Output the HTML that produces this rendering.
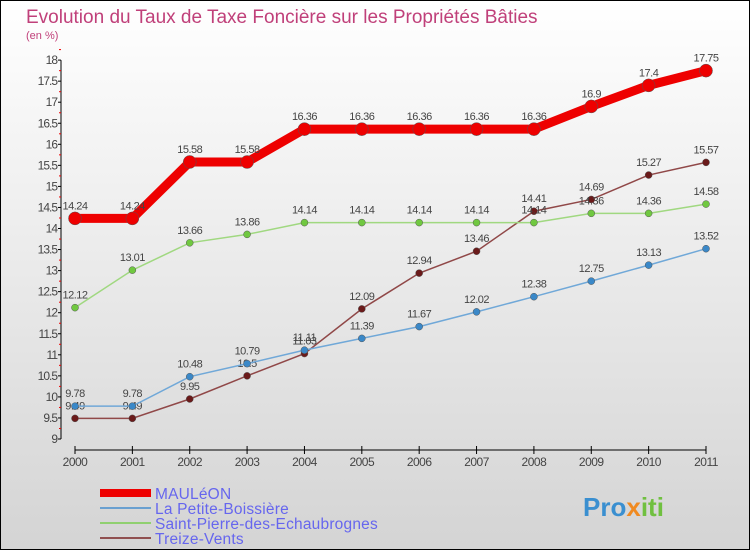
<!DOCTYPE html>
<html><head><meta charset="utf-8"><style>
body{margin:0;width:750px;height:550px;overflow:hidden;font-family:"Liberation Sans",sans-serif}
</style></head><body>
<svg width="750" height="550" xmlns="http://www.w3.org/2000/svg">
<defs><linearGradient id="bg" x1="0" y1="0" x2="0" y2="1"><stop offset="0" stop-color="#ffffff"/><stop offset="1" stop-color="#d4d4d4"/></linearGradient></defs>
<rect x="0.5" y="0.5" width="749" height="549" fill="url(#bg)" stroke="#000"/>
<text x="26" y="23" font-size="19" fill="#c0407a">Evolution du Taux de Taxe Foncière sur les Propriétés Bâties</text>
<text x="26" y="39" font-size="11" fill="#c0407a">(en %)</text>
<g id="axes"></g><g id="series"></g>
<g>
<rect x="100" y="489" width="51" height="8" fill="#e00"/>
<line x1="100" y1="508" x2="151" y2="508" stroke="#6aa0d0" stroke-width="2"/>
<line x1="100" y1="523" x2="151" y2="523" stroke="#90d070" stroke-width="2"/>
<line x1="100" y1="538" x2="151" y2="538" stroke="#905050" stroke-width="2"/>
<g font-size="15.5" fill="#6666ee" letter-spacing="0.2">
<text x="155" y="499">MAULéON</text>
<text x="155" y="514">La Petite-Boissière</text>
<text x="155" y="529">Saint-Pierre-des-Echaubrognes</text>
<text x="155" y="544">Treize-Vents</text>
</g></g>
<text x="583" y="516" font-size="26" font-weight="bold" fill="#3a8fd0">Pro<tspan fill="#f08a20">x</tspan><tspan fill="#70c040">iti</tspan></text>
</svg>
<script>
const years=[2000,2001,2002,2003,2004,2005,2006,2007,2008,2009,2010,2011];
const mauleon=[14.24,14.24,15.58,15.58,16.36,16.36,16.36,16.36,16.36,16.9,17.4,17.75];
const petite=[9.78,9.78,10.48,10.79,11.11,11.39,11.67,12.02,12.38,12.75,13.13,13.52];
const saint=[12.12,13.01,13.66,13.86,14.14,14.14,14.14,14.14,14.14,14.36,14.36,14.58];
const treize=[9.49,9.49,9.95,10.5,11.03,12.09,12.94,13.46,14.41,14.69,15.27,15.57];
const yTicks=[9,9.5,10,10.5,11,11.5,12,12.5,13,13.5,14,14.5,15,15.5,16,16.5,17,17.5,18];
const NS="http://www.w3.org/2000/svg";
const X=i=>75+i*(706-75)/11, Y=v=>439-(v-9)*42.1;
function mk(t,a,p){const e=document.createElementNS(NS,t);for(const k in a)e.setAttribute(k,a[k]);p.appendChild(e);return e;}
const ax=document.getElementById('axes'), sr=document.getElementById('series');
let l=mk('line',{x1:61,y1:Y(18),x2:61,y2:Y(9),stroke:'#000'},ax);


yTicks.forEach(v=>{
 mk('line',{x1:58,x2:61,y1:Y(v),y2:Y(v),stroke:'#000'},ax);
 mk('line',{x1:59,x2:61,y1:Y(v)-10.5,y2:Y(v)-10.5,stroke:'#e00'},ax);
 const t=mk('text',{x:57,y:Y(v)+4,'text-anchor':'end','font-size':12,fill:'#444','letter-spacing':'-1'},ax);t.textContent=v;
 
 
});
l=mk('line',{x1:X(0),y1:450,x2:X(11),y2:450,stroke:'#000'},ax);


years.forEach((y,i)=>{
 mk('line',{x1:X(i),x2:X(i),y1:446,y2:454,stroke:'#000'},ax);
 const t=mk('text',{x:X(i),y:466,'text-anchor':'middle','font-size':12,fill:'#444','letter-spacing':'-0.5'},ax);t.textContent=y;
 
 
});
function draw(d,color,w,r,dot,name){
 const p=mk('polyline',{points:d.map((v,i)=>X(i)+','+Y(v)).join(' '),fill:'none',stroke:color,'stroke-width':w},sr);
 
 
 d.forEach((v,i)=>{
  const c=mk('circle',{cx:X(i),cy:Y(v),r:r,fill:dot,stroke:'#555','stroke-width':0.5},sr);
  
  
  const t=mk('text',{x:X(i),y:Y(v)-9,'text-anchor':'middle','font-size':11,fill:'#444','letter-spacing':'-0.5'},sr);t.textContent=v;
  
  
 });
}
draw(treize,'#904848',1.5,3.5,'#6a1a1a','treize-vents');
draw(saint,'#a0d880',1.5,3.5,'#70c840','saint-pierre');
draw(petite,'#70a8d8',1.5,3.5,'#3a88c8','petite-boissiere');
draw(mauleon,'#ee0000',9,6.5,'#ee0000','mauleon');
</script>
</body></html>
